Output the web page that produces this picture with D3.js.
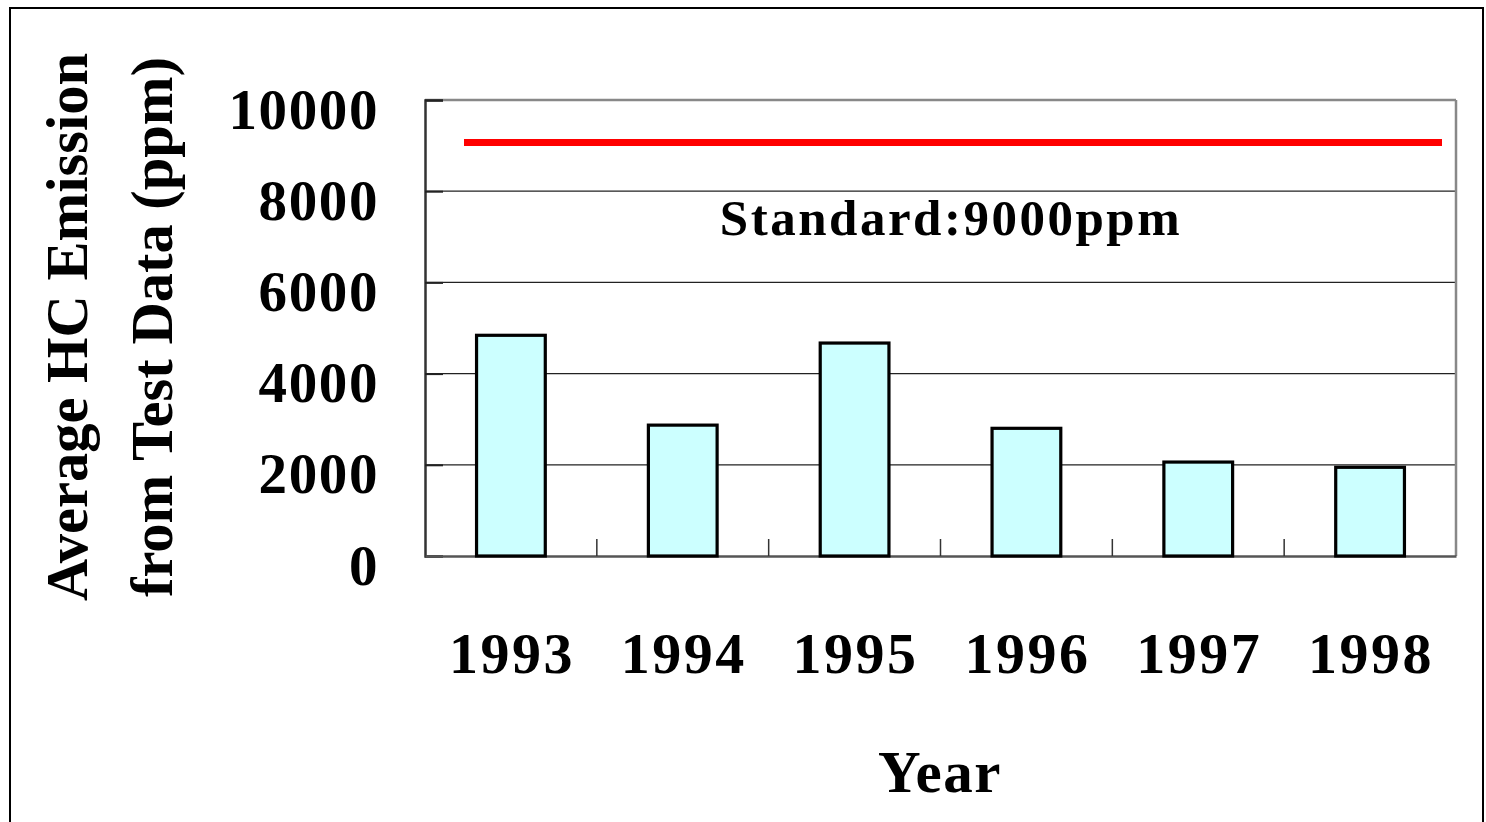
<!DOCTYPE html>
<html>
<head>
<meta charset="utf-8">
<script src="https://cdn.jsdelivr.net/npm/d3@7"></script>
<style>
  html, body { margin: 0; padding: 0; background: #fff; }
  svg { display: block; }
  text { font-family: "Liberation Serif", "Times New Roman", serif; font-weight: bold; fill: #000; }
</style>
</head>
<body>
<svg id="chart" width="1486" height="822"></svg>
<script>
// ---- data ----
const years = ["1993", "1994", "1995", "1996", "1997", "1998"];
const hcValues = [4840, 2870, 4670, 2800, 2060, 1945];
const yTicks = [0, 2000, 4000, 6000, 8000, 10000];
const standardValue = 9070;          // where the red reference line is drawn
const standardLabel = "Standard:9000ppm";
const xTitle = "Year";
const yTitleLines = ["Average HC Emission", "from Test Data (ppm)"];

// ---- layout ----
const svg = d3.select("#chart");
const plot = { left: 425, top: 100, right: 1456, bottom: 556 };

const x = d3.scaleBand().domain(years)
  .range([plot.left, plot.right])
  .paddingInner(0.6).paddingOuter(0.3);
const y = d3.scaleLinear().domain([0, 10000]).range([plot.bottom, plot.top]);

// outer frame
svg.append("rect")
  .attr("x", 10).attr("y", 8).attr("width", 1473).attr("height", 840)
  .attr("fill", "none").attr("stroke", "#000").attr("stroke-width", 2);

// gridlines
svg.append("g").selectAll("line")
  .data(yTicks.filter(d => d > 0 && d < 10000))
  .join("line")
  .attr("x1", plot.left).attr("x2", plot.right)
  .attr("y1", d => y(d)).attr("y2", d => y(d))
  .attr("stroke", "#222").attr("stroke-width", 1.2);

// plot border top & right
svg.append("line").attr("x1", plot.left).attr("x2", plot.right)
  .attr("y1", y(10000)).attr("y2", y(10000))
  .attr("stroke", "#888").attr("stroke-width", 2.5);
svg.append("line").attr("x1", plot.right).attr("x2", plot.right)
  .attr("y1", plot.top).attr("y2", plot.bottom)
  .attr("stroke", "#888").attr("stroke-width", 2.5);

// left axis
const yAxis = svg.append("g")
  .attr("transform", `translate(${plot.left},0)`)
  .call(d3.axisLeft(y).tickValues(yTicks).tickSize(-18).tickPadding(46).tickFormat(d3.format("d")));
yAxis.select(".domain").attr("stroke", "#333").attr("stroke-width", 2.5);
yAxis.selectAll(".tick line").attr("stroke", "#222").attr("stroke-width", 2);
yAxis.selectAll(".tick text")
  .attr("font-size", 57).attr("dy", 28).attr("letter-spacing", 1.6)
  .style("font-family", '"Liberation Serif", "Times New Roman", serif')
  .style("font-weight", "bold").attr("fill", "#000");

// bottom axis: ticks between categories
const xAxis = svg.append("g")
  .attr("transform", `translate(0,${plot.bottom})`)
  .call(d3.axisBottom(x).tickSize(0).tickPadding(76));
xAxis.select(".domain").attr("stroke", "#555").attr("stroke-width", 2.5);
xAxis.selectAll(".tick text")
  .attr("font-size", 58).attr("letter-spacing", 2.5)
  .attr("dx", 1)
  .style("font-family", '"Liberation Serif", "Times New Roman", serif')
  .style("font-weight", "bold").attr("fill", "#000");

const step = x.step();
svg.append("g").selectAll("line")
  .data(years.slice(1))
  .join("line")
  .attr("x1", d => x(d) + x.bandwidth() / 2 - step / 2)
  .attr("x2", d => x(d) + x.bandwidth() / 2 - step / 2)
  .attr("y1", plot.bottom - 17).attr("y2", plot.bottom)
  .attr("stroke", "#333").attr("stroke-width", 1.5);

// bars
svg.append("g").selectAll("rect")
  .data(years.map((yr, i) => ({ yr, v: hcValues[i] })))
  .join("rect")
  .attr("x", d => x(d.yr))
  .attr("y", d => y(d.v))
  .attr("width", x.bandwidth())
  .attr("height", d => y(0) - y(d.v))
  .attr("fill", "#ccffff")
  .attr("stroke", "#000").attr("stroke-width", 3.2);

// standard line
svg.append("line")
  .attr("x1", plot.left + 39).attr("x2", plot.right - 14)
  .attr("y1", y(standardValue)).attr("y2", y(standardValue))
  .attr("stroke", "#ff0000").attr("stroke-width", 7);

svg.append("text")
  .attr("x", 951).attr("y", 235)
  .attr("text-anchor", "middle")
  .attr("font-size", 51).attr("letter-spacing", 2.5)
  .text(standardLabel);

// x title
svg.append("text")
  .attr("x", 940).attr("y", 792)
  .attr("text-anchor", "middle")
  .attr("font-size", 59).attr("letter-spacing", 1.5)
  .text(xTitle);

// y title (two lines, rotated)
const yt = svg.append("text")
  .attr("transform", "translate(0,327) rotate(-90)")
  .attr("text-anchor", "middle")
  .attr("font-size", 58.5);
yt.selectAll("tspan")
  .data(yTitleLines)
  .join("tspan")
  .attr("x", 0)
  .attr("y", (d, i) => i === 0 ? 87 : 172)
  .text(d => d);
</script>
</body>
</html>
